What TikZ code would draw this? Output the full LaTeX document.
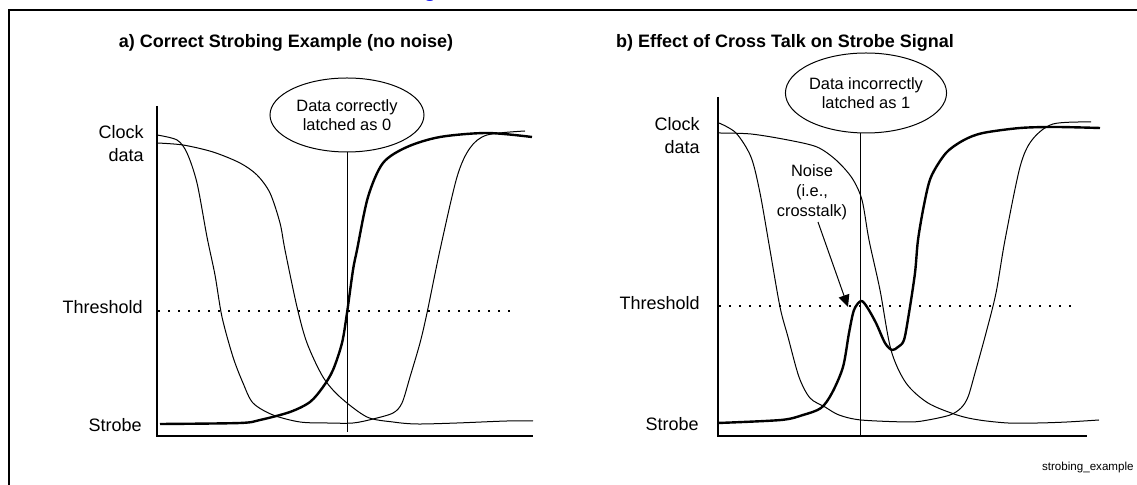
\documentclass[tikz,border=0pt]{standalone}
\usepackage{fontspec}
\setmainfont{Liberation Sans}
\usetikzlibrary{arrows.meta,shapes.geometric,calc}
\definecolor{headblue}{RGB}{20,20,240}
\begin{document}
\begin{tikzpicture}[x=0.5pt,y=-0.5pt,
  frameline/.style={line width=1pt},
  axis/.style={line width=0.6pt},
  wave/.style={line width=0.5pt, smooth, tension=0.5, line join=round},
  strobeline/.style={line width=1.2pt, smooth, tension=0.5, line join=round},
  thresh/.style={line width=0.6pt, dash pattern=on 0.8pt off 4.2pt},
  lbl/.style={font=\fontsize{9}{11.5}\selectfont, align=right, anchor=east, inner sep=0pt},
  ttl/.style={font=\fontsize{9}{11}\selectfont\bfseries, inner sep=0pt},
  callout/.style={ellipse, draw, line width=0.5pt, minimum width=77pt, minimum height=37pt,
    inner sep=0pt, align=center, font=\fontsize{8.2}{9.2}\selectfont},
  note/.style={font=\fontsize{8.2}{10}\selectfont, align=center, inner sep=0pt},
  marker/.style={line width=0.5pt},
  noisearrow/.style={line width=0.5pt, -{Triangle[length=6pt,width=5.5pt]}}]

\useasboundingbox (0,0) rectangle (1137,485);

% page frame
\draw[frameline] (9,485) -- (9,10) -- (1137,10);
\node[font=\fontsize{12}{14}\selectfont, text=headblue, anchor=base, inner sep=0pt] (head) at (430,-3) {g};

% ---------------- a) correct strobing ----------------
\node[ttl] (ta) at (286,43) {a) Correct Strobing Example (no noise)};
\draw[axis] (157,106) -- (157,436) -- (533,436);
\draw[thresh] (158,311) -- (517,311);

\node[lbl] (clka) at (144,144) {Clock\\data};
\node[lbl] (tha) at (143,307) {Threshold};
\node[lbl] (sta) at (142,425) {Strobe};

% clock: falls early, rises late
\draw[wave] plot coordinates {(157,135) (177,140) (187,153) (197,183) (207,237)
  (215,275) (222,317) (233,357) (243,383) (253,403) (273,415) (300,422) (327,423)
  (353,423) (373,419) (393,413) (402,403) (410,377) (420,343) (427,313) (440,250)
  (457,177) (470,148) (487,135) (525,131)};
% data: slow fall
\draw[wave] plot coordinates {(157,143) (183,145) (213,152) (240,163) (257,175)
  (270,193) (280,223) (285,250) (297,307) (307,343) (323,377) (340,397) (367,417)
  (393,422) (417,424) (457,423) (507,421) (533,421)};
% strobe
\draw[strobeline] plot coordinates {(160,424) (240,423) (260,420) (290,412) (310,402)
  (323,387) (333,370) (342,343) (347,313) (353,270) (357,250) (368,197) (383,163)
  (407,147) (440,137) (487,133) (532,137)};

\node[callout] (ea) at (347,115) {Data correctly\\latched as 0};
\coordinate (ma) at (347,432);
\draw[marker] (ma |- ea.south) -- (ma);

% ---------------- b) cross talk ----------------
\node[ttl] (tb) at (785,43) {b) Effect of Cross Talk on Strobe Signal};
\draw[axis] (718,97) -- (718,436) -- (1087,436);
\draw[thresh] (719,306) -- (1075,306);

\node[lbl] (clkb) at (700,136) {Clock\\data};
\node[lbl] (thb) at (700,303) {Threshold};
\node[lbl] (stb) at (699,424) {Strobe};

% clock
\draw[wave] plot coordinates {(719,123) (736,133) (751,157) (760,193) (770,250)
  (780,307) (788,337) (799,377) (810,398) (825,407) (839,415) (861,420) (909,422)
  (928,420) (950,415) (961,408) (968,397) (975,373) (986,333) (996,293) (1005,240)
  (1020,167) (1032,140) (1053,124) (1091,122)};
% data
\draw[wave] plot coordinates {(719,133) (751,134) (788,140) (817,147) (836,160)
  (852,178) (862,200) (869,240) (880,290) (891,350) (906,383) (928,403) (957,415)
  (979,420) (1008,423) (1038,423) (1067,422) (1099,420)};
% strobe with crosstalk glitch
\draw[strobeline] plot coordinates {(718,423) (781,420) (803,415) (821,408) (832,393)
  (843,367) (849,333) (854,310) (861,301) (867,307) (876,323) (885,343) (892,350)
  (898,347) (904,340) (909,313) (915,273) (918,240) (924,205) (931,177) (946,153)
  (964,140) (983,133) (1020,128) (1056,127) (1100,128)};

\node[callout, minimum height=40pt] (eb) at (866,93) {Data incorrectly\\latched as 1};
\coordinate (mb) at (860,436);
\draw[marker] (mb |- eb.south) -- (mb);

\node[note] (noise) at (812,192) {Noise\\(i.e.,\\crosstalk)};
\coordinate (peak) at (848,307);
\draw[noisearrow] ($(noise.south)+(6,2)$) -- (peak);

\node[font=\fontsize{5.8}{7}\selectfont, anchor=east, inner sep=0pt] (fname) at (1134,468) {strobing\_example};
\end{tikzpicture}
\end{document}
